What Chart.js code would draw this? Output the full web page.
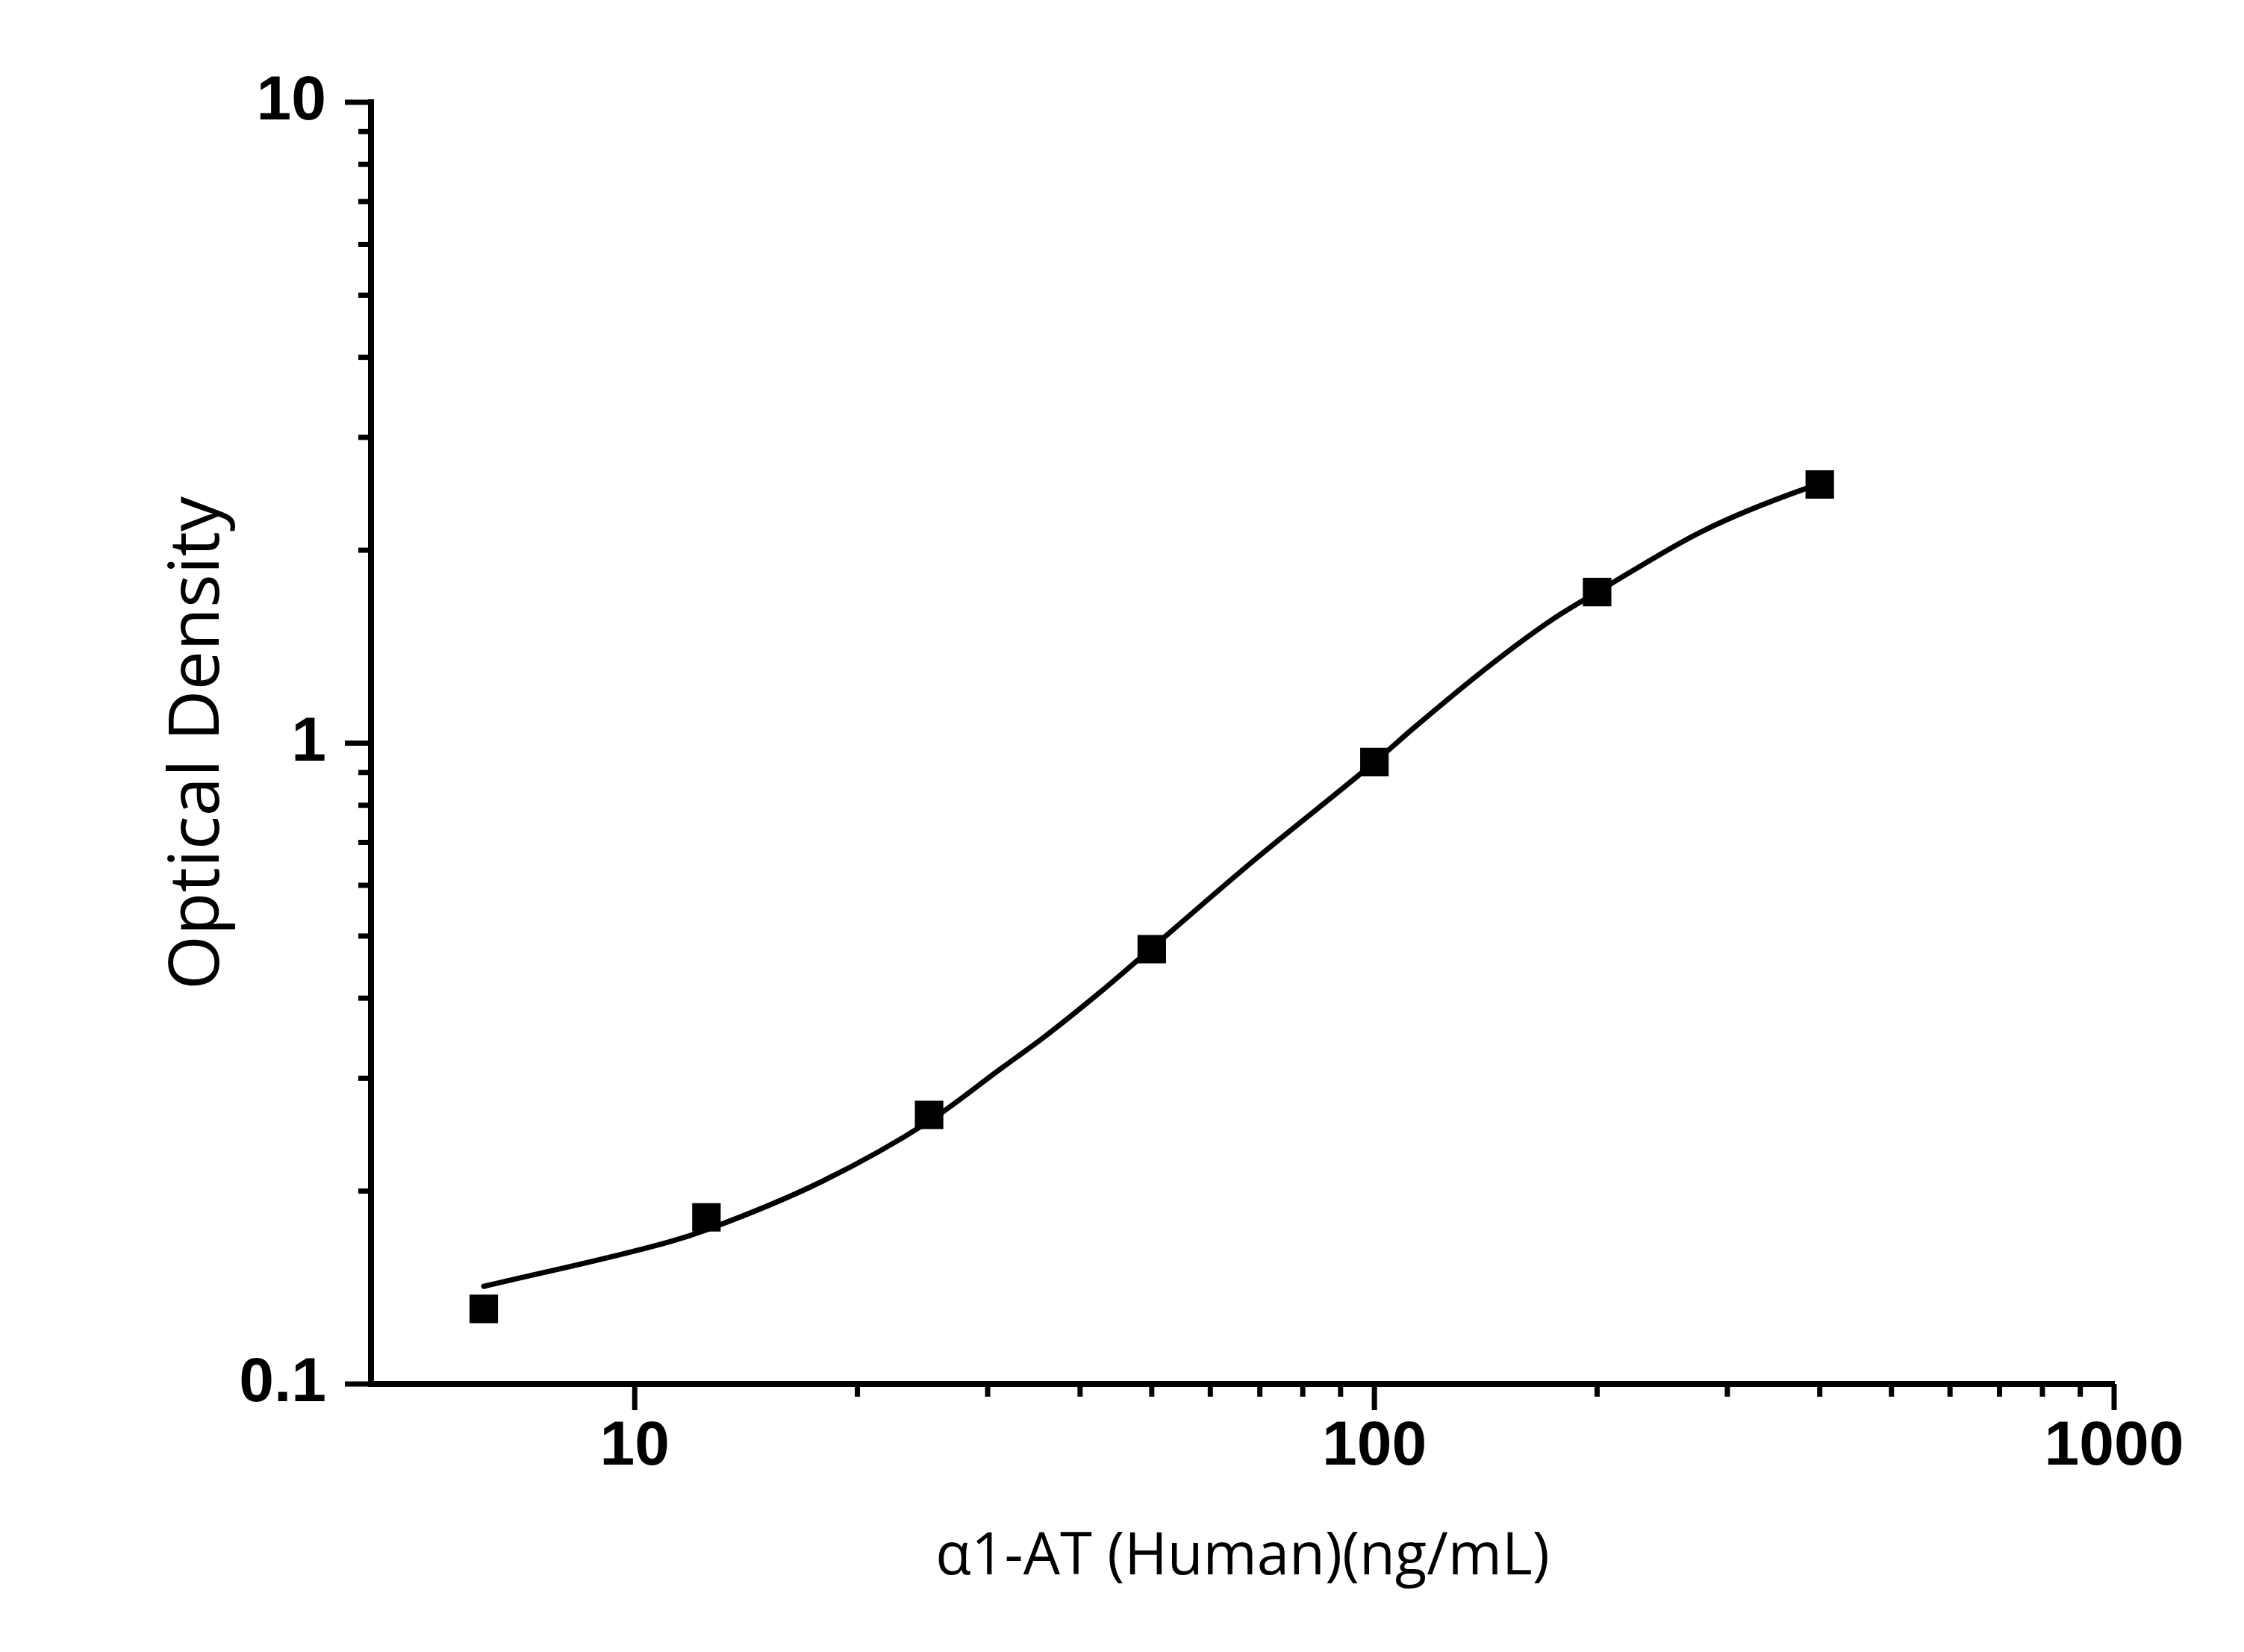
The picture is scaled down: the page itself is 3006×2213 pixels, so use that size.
<!DOCTYPE html>
<html>
<head>
<meta charset="utf-8">
<script src="https://cdn.jsdelivr.net/npm/chart.js@4/dist/chart.umd.min.js"></script>
<style>
html,body{margin:0;padding:0;background:#fff;}
canvas{display:block;}
</style>
</head>
<body>
<canvas id="c" width="3006" height="2213"></canvas>
<script>
// ---- data ----
const standardConc = [6.25, 12.5, 25, 50, 100, 200, 400];
const standardOD   = [0.131, 0.182, 0.263, 0.477, 0.934, 1.721, 2.533];

const fitConc = [6.25, 11.2, 12.5, 17.9, 25, 31.2, 35.9, 42.5, 50, 68.8, 100, 114, 143, 174, 200, 277, 382, 400];
const fitOD   = [0.142, 0.167, 0.174, 0.207, 0.257, 0.310, 0.349, 0.408, 0.479, 0.657, 0.934, 1.065, 1.32, 1.559, 1.72, 2.139, 2.493, 2.533];

const xMajorTicks = [10, 100, 1000];
const xMinorTicks = [20, 30, 40, 50, 60, 70, 80, 90, 200, 300, 400, 500, 600, 700, 800, 900];
const yMajorTicks = [0.1, 1, 10];
const yMinorTicks = [0.2, 0.3, 0.4, 0.5, 0.6, 0.7, 0.8, 0.9, 2, 3, 4, 5, 6, 7, 8, 9];

const xRange = [4.4, 1000];
const yRange = [0.1, 10];

const xTitle = 'α1-AT (Human)(ng/mL)';
const yTitle = 'Optical Density';

// ---- chart ----
const tickMarks = {
  id: 'tickMarks',
  afterDraw(chart) {
    const ctx = chart.ctx;
    const xs = chart.scales.x, ys = chart.scales.y;
    const bottom = chart.chartArea.bottom, left = chart.chartArea.left;
    ctx.save();
    ctx.strokeStyle = '#000';
    ctx.lineWidth = 7;
    ctx.lineCap = 'butt';
    const xt = (vals, len) => vals.forEach(v => {
      const px = xs.getPixelForValue(v);
      ctx.beginPath(); ctx.moveTo(px, bottom); ctx.lineTo(px, bottom + len); ctx.stroke();
    });
    const yt = (vals, len) => vals.forEach(v => {
      const py = ys.getPixelForValue(v);
      ctx.beginPath(); ctx.moveTo(left, py); ctx.lineTo(left - len, py); ctx.stroke();
    });
    xt(xMajorTicks, 35); xt(xMinorTicks, 17);
    yt(yMajorTicks, 35); yt(yMinorTicks, 17);
    ctx.restore();
  }
};

const isMajor = v => Math.abs(Math.log10(v) - Math.round(Math.log10(v))) < 1e-9;

function draw() {
  new Chart(document.getElementById('c'), {
    type: 'scatter',
    data: {
      datasets: [
        {
          data: fitConc.map((x, i) => ({x, y: fitOD[i]})),
          showLine: true,
          borderColor: '#000',
          borderWidth: 7,
          borderCapStyle: 'round',
          borderJoinStyle: 'round',
          cubicInterpolationMode: 'monotone',
          pointRadius: 0,
          pointHoverRadius: 0,
          order: 1
        },
        {
          data: standardConc.map((x, i) => ({x, y: standardOD[i]})),
          showLine: false,
          pointStyle: 'rect',
          pointRadius: 27,
          pointHoverRadius: 27,
          pointBackgroundColor: '#000',
          pointBorderWidth: 0,
          order: 0
        }
      ]
    },
    options: {
      responsive: false,
      devicePixelRatio: 1,
      animation: false,
      events: [],
      layout: { padding: { top: 137, right: 174, left: 0, bottom: 0 } },
      plugins: { legend: { display: false }, tooltip: { enabled: false } },
      scales: {
        x: {
          type: 'logarithmic',
          min: xRange[0], max: xRange[1],
          afterFit: s => { s.height = 359; },
          afterBuildTicks: s => { s.ticks = xMajorTicks.concat(xMinorTicks).sort((a, b) => a - b).map(v => ({value: v})); },
          grid: { display: false, drawTicks: false },
          border: { display: true, color: '#000', width: 8 },
          ticks: {
            autoSkip: false, maxRotation: 0, padding: 34, color: '#000',
            font: { family: 'Liberation Sans', weight: 'bold', size: 84 },
            callback: v => isMajor(v) ? String(v) : ''
          },
          title: {
            display: true, text: xTitle, color: '#000',
            font: { family: 'Open Sans', size: 78 },
            padding: { top: 0, bottom: 79 }
          }
        },
        y: {
          type: 'logarithmic',
          min: yRange[0], max: yRange[1],
          afterFit: s => { s.width = 497; },
          afterBuildTicks: s => { s.ticks = yMajorTicks.concat(yMinorTicks).sort((a, b) => a - b).map(v => ({value: v})); },
          grid: { display: false, drawTicks: false },
          border: { display: true, color: '#000', width: 8 },
          ticks: {
            autoSkip: false, padding: 60, color: '#000',
            font: { family: 'Liberation Sans', weight: 'bold', size: 84 },
            callback: v => isMajor(v) ? String(v) : ''
          },
          title: {
            display: true, text: yTitle, color: '#000',
            font: { family: 'Open Sans', size: 94 },
            padding: { top: 210, bottom: 0 }
          }
        }
      }
    },
    plugins: [tickMarks]
  });
}

Promise.all([
  document.fonts.load('bold 84px "Liberation Sans"'),
  document.fonts.load('78px "Open Sans"')
]).then(draw, draw);
</script>
</body>
</html>
